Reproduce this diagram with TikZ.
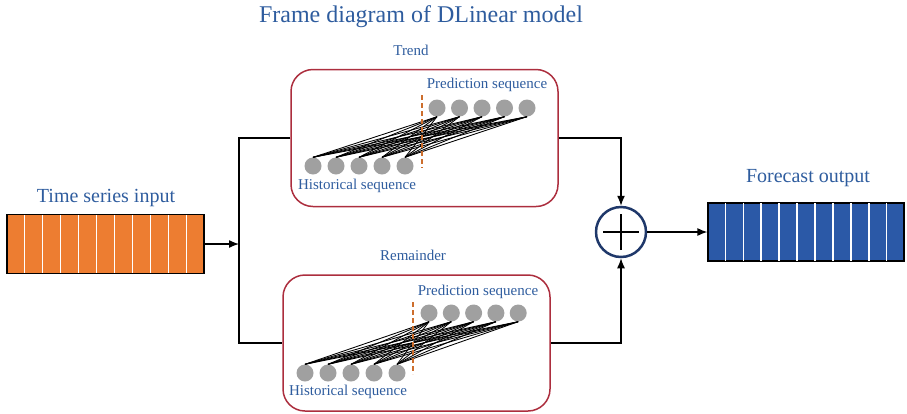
\documentclass[tikz,border=0pt]{standalone}
\usepackage{fontspec}
\setmainfont{Liberation Serif}
\usepackage{tikz}
\usetikzlibrary{arrows.meta,calc}
\definecolor{labelblue}{RGB}{46,92,158}
\definecolor{boxred}{RGB}{172,46,62}
\definecolor{sumnavy}{RGB}{31,56,106}
\definecolor{seriesorange}{RGB}{237,125,49}
\definecolor{seriesblue}{RGB}{43,89,167}
\definecolor{unitgray}{RGB}{160,160,160}
\definecolor{cutorange}{RGB}{205,110,45}
\tikzstyle{Block}=[rectangle, rounded corners=22, draw=boxred, line width=1.5, minimum width=267, minimum height=137]
\tikzstyle{Series}=[rectangle, draw=black, line width=1.2, minimum width=197, minimum height=59, inner sep=0]
\tikzstyle{Unit}=[circle, fill=unitgray, minimum size=17, inner sep=0]
\tikzstyle{Caption}=[text=labelblue, inner sep=0]
\tikzstyle{Wire}=[line width=1.3, -{Latex[length=10pt,width=8pt]}]

\begin{document}
\begin{tikzpicture}[x=1pt, y=-1pt]
    \useasboundingbox (0,0) rectangle (907,413);

    \path
    (421,17) node[Caption, font=\fontsize{24}{28}\selectfont] (title) {Frame diagram of DLinear model}
    (411,50) node[Caption, font=\fontsize{15}{18}\selectfont] (trendlbl) {Trend}
    (413,255) node[Caption, font=\fontsize{15}{18}\selectfont] (remainlbl) {Remainder}
    (106,198) node[Caption, font=\fontsize{20}{24}\selectfont] (inlbl) {Time series input}
    (808,178) node[Caption, font=\fontsize{20}{24}\selectfont] (outlbl) {Forecast output};

    \path
    (105.5,244) node[Series, fill=seriesorange] (inbar) {}
    (806,232) node[Series, fill=seriesblue, minimum width=196, minimum height=58] (outbar) {}
    (424.5,138) node[Block] (trendbox) {}
    (416.5,343) node[Block, minimum height=136] (remainbox) {}
    (621,232) node[circle, draw=sumnavy, line width=2.5, minimum size=50, inner sep=0] (sum) {};

    % cells of the two series bars
    \foreach \b in {inbar, outbar}
        \foreach \i in {1,...,10}
            \draw[white, line width=1.5]
                ($(\b.north west)!\i/11!(\b.north east)+(0,1)$) --
                ($(\b.south west)!\i/11!(\b.south east)+(0,-1)$);

    % plus sign of the adder
    \draw[line width=1.2] ([xshift=-18pt]sum.center) -- ([xshift=18pt]sum.center);
    \draw[line width=1.2] ([yshift=-18pt]sum.center) -- ([yshift=18pt]sum.center);

    % trend branch: historical and predicted units
    \foreach \i in {1,...,5} {
        \node[Unit] (th\i) at (313+23*\i-23,166) {};
        \node[Unit] (tp\i) at (437+22.5*\i-22.5,108) {};
    }
    \foreach \i in {1,...,5}
        \foreach \j in {1,...,5}
            \draw[line width=0.85] (th\i.north) -- (tp\j.south);
    \draw[cutorange, line width=1.2, dash pattern=on 5pt off 3pt] (422,95) -- (422,168);
    \path
    (487,85) node[Caption, font=\fontsize{15}{18}\selectfont] (tpredlbl) {Prediction sequence}
    (357,186) node[Caption, font=\fontsize{15}{18}\selectfont] (thistlbl) {Historical sequence};

    % remainder branch: historical and predicted units
    \foreach \i in {1,...,5} {
        \node[Unit] (rh\i) at (305+23*\i-23,373) {};
        \node[Unit] (rp\i) at (429+22.3*\i-22.3,313) {};
    }
    \foreach \i in {1,...,5}
        \foreach \j in {1,...,5}
            \draw[line width=0.85] (rh\i.north) -- (rp\j.south);
    \draw[cutorange, line width=1.2, dash pattern=on 5pt off 3pt] (413,302) -- (413,374);
    \path
    (478,292) node[Caption, font=\fontsize{15}{18}\selectfont] (rpredlbl) {Prediction sequence}
    (348,392) node[Caption, font=\fontsize{15}{18}\selectfont] (rhistlbl) {Historical sequence};

    % decomposition and summation wiring
    \coordinate (split) at (239,244);
    \draw[Wire] (inbar.east) -- (split);
    \draw[line width=1.3] (trendbox.west) -| (split) |- (remainbox.west);
    \draw[Wire] (trendbox.east) -| (sum.north);
    \draw[Wire] (remainbox.east) -| (sum.south);
    \draw[Wire] (sum.east) -- (outbar.west);
\end{tikzpicture}
\end{document}
